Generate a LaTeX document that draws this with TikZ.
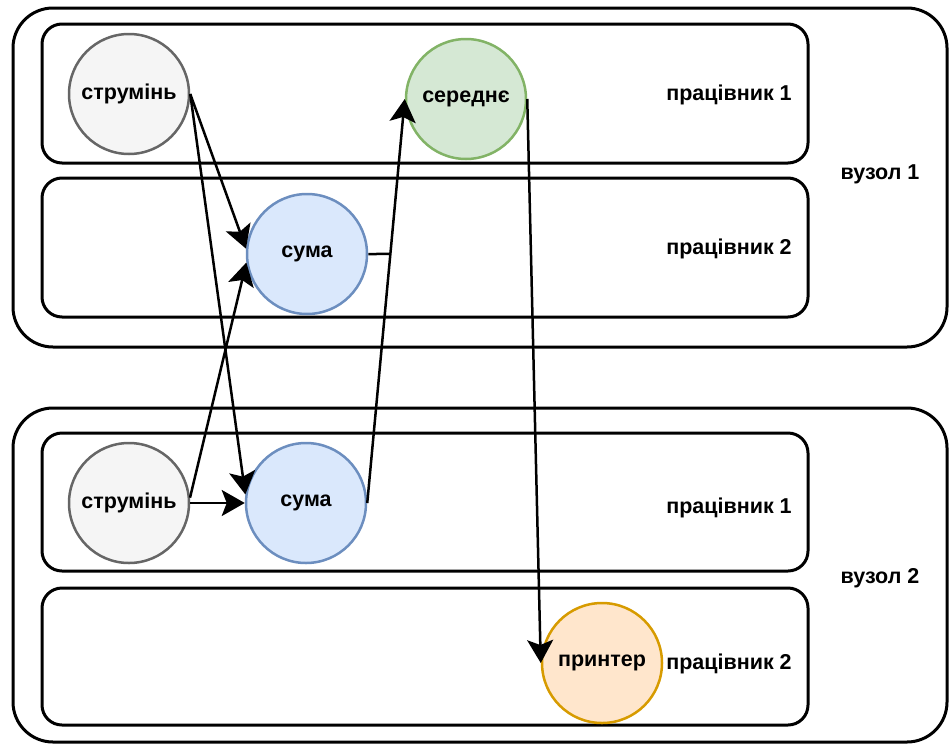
\documentclass[tikz,border=0pt]{standalone}
\usepackage{fontspec}
\setmainfont{Liberation Sans}
\usetikzlibrary{arrows.meta}
\definecolor{strFill}{HTML}{F5F5F5}\definecolor{strLine}{HTML}{666666}
\definecolor{sumFill}{HTML}{DAE8FC}\definecolor{sumLine}{HTML}{6C8EBF}
\definecolor{avgFill}{HTML}{D5E8D4}\definecolor{avgLine}{HTML}{82B366}
\definecolor{prnFill}{HTML}{FFE6CC}\definecolor{prnLine}{HTML}{D79B00}
\begin{document}
\begin{tikzpicture}[x=1pt,y=-1pt,
  font=\fontsize{21.5}{24}\selectfont\bfseries,
  hostbox/.style={draw=black,line width=3pt,rounded corners=40pt},
  workerbox/.style={draw=black,line width=3pt,rounded corners=20pt},
  op/.style={circle,minimum size=120pt,inner sep=0pt,line width=2.5pt},
  strnode/.style={op,draw=strLine,fill=strFill},
  sumnode/.style={op,draw=sumLine,fill=sumFill},
  avgnode/.style={op,draw=avgLine,fill=avgFill},
  prnnode/.style={op,draw=prnLine,fill=prnFill},
  flow/.style={line width=2.5pt,arrows={-Stealth[length=23pt,width=26pt,inset=5pt]}},
  link/.style={line width=2.5pt}]
\useasboundingbox (0,0) rectangle (949,744);
% hosts
\draw[hostbox] (13,8) rectangle (947,347);
\draw[hostbox] (13,408) rectangle (947,742);
% workers
\draw[workerbox] (42,24) rectangle (808,163);
\draw[workerbox] (42,178) rectangle (808,317);
\draw[workerbox] (42,433) rectangle (808,571);
\draw[workerbox] (42,588) rectangle (808,725);
% labels
\node (h1) at (880,174) {вузол 1};
\node (h2) at (880,578) {вузол 2};
\node (w11) at (729,95) {працівник 1};
\node (w12) at (729,249) {працівник 2};
\node (w21) at (729,508) {працівник 1};
\node (w22) at (729,664) {працівник 2};
% operators
\node[strnode] (s1) at (129,94) {струмінь};
\node[sumnode] (u1) at (307,254) {сума};
\node[avgnode] (a) at (466,99) {середнє};
\node[strnode] (s2) at (129,503) {струмінь};
\node[sumnode] (u2) at (306,503) {сума};
\node[prnnode] (p) at (602,663) {принтер};
% data flow
\draw[flow] (s1.east) -- (u1.175);
\draw[flow] (s1.east) -- (u2.172);
\draw[flow] (s2.5) -- (u1.188);
\draw[flow] (s2.east) -- (u2.west);
\draw[flow] (u2.east) -- (a.west);
\coordinate (j) at (intersection of u2.east--a.west and u1.east--u1.center);
\draw[link] (u1.east) -- (j);
\draw[flow] (a.east) -- (p.west);
\end{tikzpicture}
\end{document}
